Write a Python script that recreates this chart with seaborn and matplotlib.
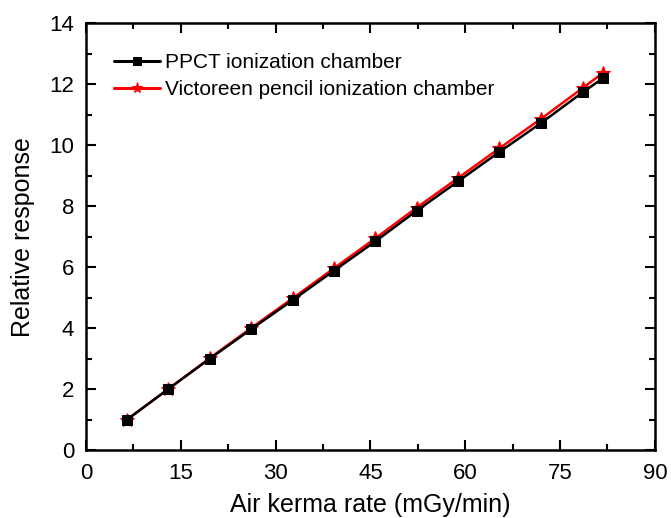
import numpy as np
import pandas as pd
import matplotlib
matplotlib.use("Agg")
import matplotlib.pyplot as plt
import seaborn as sns
from matplotlib.ticker import MultipleLocator

# values
air_kerma = [6.5, 13.0, 19.6, 26.1, 32.7, 39.2, 45.8, 52.3, 58.9, 65.4, 72.0, 78.6, 81.8]
ppct = [1.0, 2.0, 3.0, 3.96, 4.92, 5.88, 6.85, 7.85, 8.82, 9.78, 10.73, 11.74, 12.2]
victoreen = [1.0, 2.0, 3.02, 4.0, 4.98, 5.96, 6.95, 7.95, 8.93, 9.9, 10.87, 11.88, 12.38]
labels = ["PPCT ionization chamber", "Victoreen pencil ionization chamber"]

sns.set_style("ticks")
plt.rcParams['font.family'] = ['Liberation Sans', 'DejaVu Sans']
plt.rcParams.update({'text.color': 'black', 'axes.labelcolor': 'black',
                     'xtick.color': 'black', 'ytick.color': 'black',
                     'axes.edgecolor': 'black'})

fig = plt.figure(figsize=(6.71, 5.18), dpi=100)
ax = fig.add_axes([0.128, 0.131, 0.848, 0.824])

# red drawn first so the black squares sit on top, as in the original
sns.lineplot(x=air_kerma, y=victoreen, ax=ax, color="red", marker="*", markersize=10,
             markeredgecolor="red", linewidth=1.8, label=labels[1], zorder=2)
sns.lineplot(x=air_kerma, y=ppct, ax=ax, color="black", marker="s", markersize=7,
             markeredgecolor="black", linewidth=1.8, label=labels[0], zorder=3)

ax.set_xlim(0, 90)
ax.set_ylim(0, 14)
ax.xaxis.set_major_locator(MultipleLocator(15))
ax.xaxis.set_minor_locator(MultipleLocator(7.5))
ax.yaxis.set_major_locator(MultipleLocator(2))
ax.yaxis.set_minor_locator(MultipleLocator(1))
ax.tick_params(which="both", direction="in", top=True, right=True, width=1.5,
               labelsize=16)
ax.tick_params(axis="y", pad=8.5)
ax.tick_params(axis="x", pad=9)
ax.tick_params(which="major", length=7)
ax.tick_params(which="minor", length=4)
for s in ax.spines.values():
    s.set_linewidth(1.8)

ax.set_xlabel("Air kerma rate (mGy/min)", fontsize=18, labelpad=7)
ax.set_ylabel("Relative response", fontsize=18, labelpad=10)

h, l = ax.get_legend_handles_labels()
leg = ax.legend(h[::-1], l[::-1], loc="upper left", frameon=False, fontsize=15,
                bbox_to_anchor=(0.05, 0.93), borderpad=0, borderaxespad=0,
                handlelength=2.2, handletextpad=0.25, labelspacing=0.38,
                markerscale=0.8)
for line in leg.get_lines():
    line.set_linewidth(2.2)

fig.savefig("out.png", dpi=100)
